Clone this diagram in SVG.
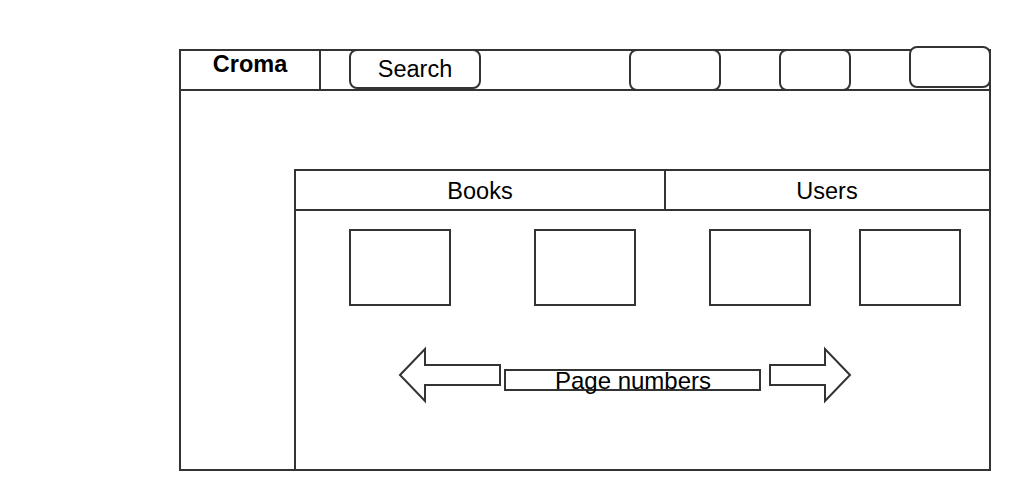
<svg xmlns="http://www.w3.org/2000/svg" width="1014" height="490" viewBox="0 0 1014 490">
<style>
.s{fill:#fff;stroke:#333;stroke-width:2}
.t{font-family:"Liberation Sans",Arial,sans-serif;font-size:23.5px;fill:#000;text-anchor:middle}
</style>
<rect width="1014" height="490" fill="#fff"/>
<g id="frame">
<rect class="s" x="180" y="50" width="810" height="420"/>
<line class="s" x1="180" y1="90" x2="990" y2="90"/>
</g>
<g id="logo">
<line class="s" x1="320" y1="50" x2="320" y2="90"/>
<text class="t" x="250" y="72" font-weight="bold">Croma</text>
</g>
<g id="search">
<rect class="s" x="350" y="50" width="130" height="38" rx="7"/>
<text class="t" x="415" y="77">Search</text>
</g>
<g id="btn1"><rect class="s" x="630" y="50" width="90" height="40" rx="7"/></g>
<g id="btn2"><rect class="s" x="780" y="50" width="70" height="40" rx="7"/></g>
<g id="btn3"><rect class="s" x="910" y="47" width="80" height="40" rx="7"/></g>
<g id="panel">
<rect class="s" x="295" y="170" width="695" height="300"/>
<line class="s" x1="295" y1="210" x2="990" y2="210"/>
</g>
<g id="tab-books">
<text class="t" x="480" y="199">Books</text>
</g>
<g id="tab-users">
<line class="s" x1="665" y1="170" x2="665" y2="210"/>
<text class="t" x="827" y="199">Users</text>
</g>
<g id="card1"><rect class="s" x="350" y="230" width="100" height="75"/></g>
<g id="card2"><rect class="s" x="535" y="230" width="100" height="75"/></g>
<g id="card3"><rect class="s" x="710" y="230" width="100" height="75"/></g>
<g id="card4"><rect class="s" x="860" y="230" width="100" height="75"/></g>
<g id="prev"><path class="s" d="M400,375 L425,349 L425,365 L500,365 L500,385 L425,385 L425,401 Z"/></g>
<g id="pages">
<rect class="s" x="505" y="370" width="255" height="20"/>
<text class="t" x="633" y="389" style="font-size:24px">Page numbers</text>
</g>
<g id="next"><path class="s" d="M850,375 L825,349 L825,365 L770,365 L770,385 L825,385 L825,401 Z"/></g>
<g id="connectors"></g>
</svg>
